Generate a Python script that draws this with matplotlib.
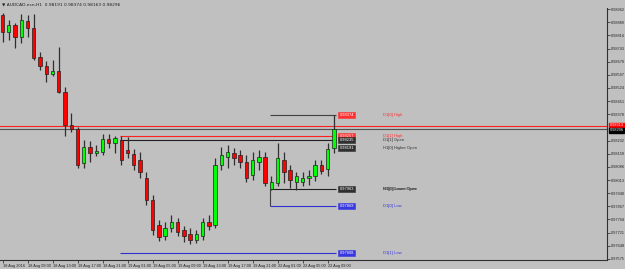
import matplotlib.pyplot as plt
from matplotlib.transforms import blended_transform_factory

plt.rcParams['font.family'] = ['Liberation Sans', 'DejaVu Sans']

# hourly candles AUDCAD, 18 Aug 05:00 .. 22 Aug 10:00
opens = [0.98929, 0.98834, 0.98873, 0.98807, 0.98895, 0.98857, 0.98696, 0.98646, 0.98601, 0.98618,
         0.98501, 0.98318, 0.98296, 0.98107, 0.98196, 0.98163, 0.98168, 0.98241, 0.98218, 0.98235,
         0.98180, 0.98157, 0.98124, 0.98025, 0.97902, 0.97763, 0.97702, 0.97747, 0.97780, 0.97736,
         0.97713, 0.97680, 0.97702, 0.97780, 0.97763, 0.98096, 0.98141, 0.98163, 0.98152, 0.98113,
         0.98042, 0.98113, 0.98141, 0.97963, 0.97997, 0.98124, 0.98069, 0.98002, 0.98002, 0.98025,
         0.98036, 0.98096, 0.98074, 0.98191]
highs = [0.98940, 0.98901, 0.98884, 0.98934, 0.98929, 0.98934, 0.98723, 0.98673, 0.98679, 0.98751,
         0.98529, 0.98385, 0.98307, 0.98235, 0.98229, 0.98207, 0.98268, 0.98268, 0.98257, 0.98257,
         0.98252, 0.98185, 0.98168, 0.98058, 0.97930, 0.97791, 0.97780, 0.97819, 0.97802, 0.97758,
         0.97747, 0.97736, 0.97802, 0.97819, 0.98135, 0.98196, 0.98207, 0.98191, 0.98180, 0.98152,
         0.98168, 0.98180, 0.98168, 0.98036, 0.98218, 0.98168, 0.98096, 0.98058, 0.98058, 0.98069,
         0.98124, 0.98124, 0.98218, 0.98374]
lows = [0.98779, 0.98790, 0.98746, 0.98773, 0.98807, 0.98679, 0.98624, 0.98557, 0.98590, 0.98496,
        0.98257, 0.98279, 0.98080, 0.98080, 0.98113, 0.98146, 0.98152, 0.98191, 0.98163, 0.98096,
        0.98135, 0.98069, 0.98025, 0.97874, 0.97708, 0.97674, 0.97680, 0.97724, 0.97702, 0.97669,
        0.97658, 0.97663, 0.97680, 0.97736, 0.97747, 0.98069, 0.98080, 0.98096, 0.98080, 0.98002,
        0.98013, 0.98069, 0.97980, 0.97958, 0.97980, 0.97997, 0.97969, 0.97958, 0.97980, 0.97985,
        0.98008, 0.98047, 0.98036, 0.98163]
closes = [0.98834, 0.98873, 0.98807, 0.98901, 0.98857, 0.98690, 0.98646, 0.98601, 0.98618, 0.98501,
          0.98318, 0.98296, 0.98096, 0.98196, 0.98163, 0.98174, 0.98241, 0.98218, 0.98246, 0.98124,
          0.98163, 0.98096, 0.98058, 0.97902, 0.97736, 0.97697, 0.97747, 0.97780, 0.97724, 0.97702,
          0.97680, 0.97713, 0.97780, 0.97758, 0.98096, 0.98152, 0.98168, 0.98135, 0.98113, 0.98025,
          0.98124, 0.98141, 0.97997, 0.98002, 0.98135, 0.98058, 0.98013, 0.98036, 0.98025, 0.98036,
          0.98096, 0.98063, 0.98185, 0.98296]

time_ticks = [0, 4, 8, 12, 16, 20, 24, 28, 32, 36, 40, 44, 48, 52]
time_labels = ['18 Aug 2016', '18 Aug 09:00', '18 Aug 13:00', '18 Aug 17:00', '18 Aug 21:00',
               '19 Aug 01:00', '19 Aug 05:00', '19 Aug 09:00', '19 Aug 13:00', '19 Aug 17:00',
               '19 Aug 21:00', '22 Aug 01:00', '22 Aug 05:00', '22 Aug 09:00']

price_ticks = [0.97575, 0.97648, 0.97721, 0.97794, 0.97867, 0.97940, 0.98013, 0.98086, 0.98159, 0.98232,
               0.98378, 0.98451, 0.98524, 0.98597, 0.98670, 0.98743, 0.98816, 0.98889, 0.98962]

ask = 0.98313
bid = 0.98296

# level name, price, start candle, line colour, box colour
level_names = ['D1[0] High', 'D1[1] High', 'D1[1] Open', 'H1[0] Higher Open',
               'H1[0] Lower Open', 'D1[0] Low', 'D1[1] Low']
level_prices = [0.98374, 0.98257, 0.98235, 0.98191, 0.97963, 0.97869, 0.97608]
level_starts = [43, 19, 19, None, 43, 43, 19]
level_lines = ['#404040', '#ff2020', '#202020', None, '#202020', '#3030d0', '#3030d0']
level_colors = ['#ff3030', '#ff3030', '#303030', '#303030', '#303030', '#3838e0', '#3838e0']

bg = '#c0c0c0'
fig = plt.figure(figsize=(6.25, 2.69), dpi=100, facecolor=bg)
ax = fig.add_axes([0.0, 9 / 269, 607 / 625, 252 / 269], facecolor=bg)

last = len(closes) - 1
for i in range(len(closes)):
    o, h, l, c = opens[i], highs[i], lows[i], closes[i]
    col = '#00ff00' if c >= o else '#ff0000'
    ax.vlines(i, l, h, color='#303030', lw=0.9, zorder=3)
    ax.bar(i, abs(c - o) or 0.000008, bottom=min(o, c), width=0.55, color=col,
           edgecolor='#202020', linewidth=0.5, zorder=4)

# ask / bid lines across the chart
ax.axhline(ask, color='#ff2020', lw=0.8, zorder=2)
ax.axhline(bid, color='#505050', lw=0.8, zorder=2)

# day separator on the Monday levels
ax.vlines(42.8, level_prices[5], level_prices[4], color='#404040', lw=0.8, zorder=2)

for name, p, s, lc, bc in zip(level_names, level_prices, level_starts, level_lines, level_colors):
    if s is not None:
        ax.hlines(p, s - 0.2, last + 0.3, color=lc, lw=0.8, zorder=2)
    ax.text(53.9, p, '%.5f' % p, fontsize=2.9, color='white', va='center', ha='left', zorder=6,
            bbox=dict(boxstyle='square,pad=0.25', fc=bc, ec=bc, lw=0.4))
    ax.text(60.9, p, name, fontsize=3.0, color=bc, va='center', ha='left', zorder=6)
ax.text(60.9, level_prices[4], 'W1[0] Lower Open', fontsize=3.0, color='#303030',
        va='center', ha='left', zorder=6)

ax.set_xlim(-0.4, 96.7)
ax.set_ylim(0.97569, 0.98968)

ax.yaxis.tick_right()
ax.set_yticks(price_ticks)
ax.set_yticklabels(['%.5f' % v for v in price_ticks])
ax.set_xticks(time_ticks)
ax.set_xticklabels(time_labels, ha='left')
ax.tick_params(axis='y', labelsize=2.8, length=2, width=0.5, pad=0.6, colors='#202020')
ax.tick_params(axis='x', labelsize=2.8, length=2, width=0.5, pad=1, colors='#202020')

for side in ['top', 'left']:
    ax.spines[side].set_visible(False)
ax.spines['right'].set_color('#303030')
ax.spines['bottom'].set_color('#303030')
ax.spines['right'].set_linewidth(0.8)
ax.spines['bottom'].set_linewidth(0.8)

# current price tags on the price scale
tr = blended_transform_factory(ax.transAxes, ax.transData)
ax.text(1.004, ask + 0.00003, '%.5f' % ask, transform=tr, fontsize=2.8, color='white', va='center',
        ha='left', zorder=7, clip_on=False, bbox=dict(boxstyle='square,pad=0.2', fc='#ff0000', ec='#ff0000'))
ax.text(1.004, bid - 0.00007, '%.5f' % bid, transform=tr, fontsize=2.8, color='white', va='center',
        ha='left', zorder=8, clip_on=False, bbox=dict(boxstyle='square,pad=0.2', fc='black', ec='black'))

fig.text(0.004, 0.985, '\u25bc AUDCAD.ecn,H1  0.98191 0.98374 0.98163 0.98296', fontsize=3.2,
         color='#202020', va='center', ha='left', family=['DejaVu Sans'])

fig.savefig('out.png', dpi=100, facecolor=bg)
